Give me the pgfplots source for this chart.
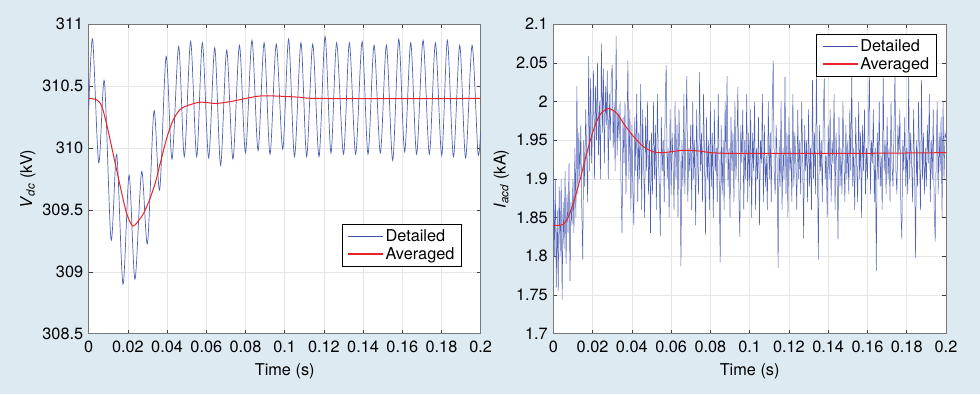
\documentclass[border=0pt]{standalone}
\usepackage{fontspec}
\setmainfont{TeX Gyre Heros}
\usepackage{pgfplots}
\usepackage{pgfplotstable}
\pgfplotsset{compat=1.18}
\definecolor{bg}{RGB}{221,234,241}
\definecolor{det}{RGB}{62,82,170}
\definecolor{detl}{RGB}{80,98,182}
\definecolor{avg}{RGB}{232,36,40}
\definecolor{axc}{RGB}{120,120,120}
\definecolor{gridc}{RGB}{230,230,230}
\newcommand{\ff}{\fontsize{16.3}{19}\selectfont}
\pgfplotstableread[header=false]{
1.91
1.80
1.90
1.76
1.86
1.755
1.89
1.80
1.90
1.744
1.87
1.81
1.91
1.79
1.88
1.83
1.92
1.768
1.87
1.84
1.90
1.83
1.94
1.85
2.02
1.88
1.96
1.90
1.97
1.86
1.796
1.95
1.89
1.99
1.93
1.87
2.059
1.91
2.03
1.92
1.97
2.04
1.90
2.02
1.95
2.05
1.93
2.00
1.90
2.075
1.96
2.043
1.92
2.02
1.97
2.04
1.90
2.01
1.95
2.03
2.047
1.94
2.00
1.91
2.085
1.93
1.99
1.95
2.00
1.89
1.83
1.98
1.92
2.00
1.88
1.96
2.053
1.90
1.99
1.86
1.97
1.89
1.84
1.98
1.91
2.01
1.87
1.96
1.90
2.023
1.86
1.99
1.92
1.85
1.98
1.91
2.00
1.88
1.95
1.83
1.96
1.88
2.00
1.90
1.97
1.86
2.01
1.93
1.89
1.826
1.98
1.91
1.95
1.87
2.00
2.047
1.90
1.94
1.85
1.99
1.88
1.96
1.92
1.86
2.00
1.90
1.97
1.85
1.99
1.93
1.787
1.95
1.89
2.01
1.88
1.96
2.033
1.87
1.94
1.91
1.97
1.86
2.00
1.90
1.95
1.84
1.99
1.92
1.88
2.038
1.91
1.96
1.87
2.01
1.93
1.828
1.98
1.90
1.95
1.86
2.00
1.89
1.96
1.85
1.99
1.91
1.94
1.87
2.01
1.90
1.792
1.97
1.88
1.95
1.86
2.00
1.92
2.033
1.89
1.94
1.85
1.98
1.91
1.96
1.87
2.00
1.90
1.94
2.019
1.88
1.825
1.97
1.92
1.99
1.86
1.95
1.90
2.01
1.87
1.96
1.89
1.99
1.85
1.96
1.91
2.00
1.86
1.94
1.90
1.98
1.84
1.95
1.92
2.01
1.87
1.97
1.89
1.93
1.86
2.00
1.90
1.96
1.87
1.99
2.053
1.91
1.88
1.97
1.92
1.785
1.95
1.89
2.00
1.86
1.94
1.90
2.032
1.88
1.96
1.85
1.98
1.91
1.94
1.87
2.01
1.89
1.96
1.92
1.86
1.99
1.90
1.95
1.88
2.00
1.93
1.823
1.97
1.91
1.95
1.87
1.99
1.89
1.94
1.86
2.028
1.90
1.96
1.88
2.039
1.92
1.796
1.97
1.91
1.95
1.87
1.98
2.03
1.90
1.93
1.85
1.97
1.90
1.99
1.87
1.95
1.92
2.01
1.86
1.96
1.91
1.822
1.98
1.89
1.94
1.88
2.00
1.93
1.87
1.97
1.90
1.95
1.88
1.99
1.91
2.039
1.89
1.94
1.86
1.98
1.92
1.87
2.00
1.90
1.96
1.85
1.97
1.91
1.99
1.88
1.94
1.90
1.97
2.039
1.88
1.95
1.92
1.99
1.87
1.94
1.781
1.96
1.90
2.00
1.89
1.93
1.86
2.039
1.91
1.95
1.88
1.98
1.90
1.94
1.87
2.00
1.92
1.89
1.96
2.039
1.91
1.88
1.97
1.93
1.99
1.86
1.822
1.95
1.91
1.98
1.89
1.94
1.88
2.035
1.90
1.96
1.92
1.87
1.99
1.91
1.798
1.95
1.89
2.00
1.93
1.86
2.028
1.90
1.96
1.88
1.94
1.89
1.97
1.92
2.01
1.87
1.95
1.90
1.99
1.86
1.819
1.93
2.00
1.88
1.96
1.91
1.98
1.85
2.00
1.90
1.96
1.953
}\iacd
\begin{document}
\begin{tikzpicture}
\fill[bg] (0pt,0pt) rectangle (980pt,394pt);
\pgfplotsset{
 every axis/.append style={
  scale only axis, height=309.5pt,
  axis background/.style={fill=white},
  xmin=0, xmax=0.2,
  xtick={0,0.02,0.04,0.06,0.08,0.1,0.12,0.14,0.16,0.18,0.2},
  tick align=inside, tick pos=both,
  major tick length=4pt,
  grid=major, major grid style={gridc, line width=0.6pt},
  axis line style={axc, line width=0.6pt},
  tick style={black!75, line width=0.6pt},
  font=\ff,
  tick label style={font=\ff},
  /pgf/number format/assume math mode=true,
  scaled ticks=false,
  xticklabel style={/pgf/number format/fixed, /pgf/number format/precision=2, yshift=-4pt},
  yticklabel style={xshift=-2pt},
  xlabel={Time (s)},
  xlabel style={yshift=-4pt},
  legend cell align=left,
  legend style={draw=black, line width=0.9pt, fill=white, font=\ff, inner xsep=5pt, inner ysep=3.5pt, row sep=0pt},
 },
 detleg/.style={legend image code/.code={\draw[color=det, draw=det, line width=1.4pt] (0pt,0pt) -- (35pt,0pt);}},
 avgleg/.style={legend image code/.code={\draw[color=avg, draw=avg, line width=1.4pt] (0pt,0pt) -- (35pt,0pt);}},
}
\begin{axis}[at={(88.7pt,60.3pt)}, anchor=south west, width=392pt,
  ymin=308.5, ymax=311, ytick={308.5,309,309.5,310,310.5,311},
  ylabel={\textit{V}\textsubscript{\textit{dc}} (kV)},
  legend style={at={(rel axis cs:0.952,0.217)}, anchor=south east}]
\addplot[color=detl, line width=0.7pt, smooth, detleg] coordinates {
(0,310.30) (0.002,310.88) (0.0051,309.88) (0.008,310.54) (0.0114,309.26) (0.0143,309.95)
(0.0175,308.90) (0.0206,309.78) (0.0236,308.94) (0.027,309.81) (0.030,309.23) (0.0333,310.30)
(0.0362,309.66) (0.0395,310.74) (0.0425,309.91) (0.0459,310.82) (0.0488,309.93) (0.052,310.86)
(0.0551,309.93) (0.058,310.85) (0.0612,309.92) (0.0643,310.81) (0.0673,309.86) (0.0704,310.79)
(0.0736,309.91) (0.0769,310.83) (0.080,309.96) (0.0833,310.87) (0.0864,309.98) (0.0895,310.85)
(0.0925,309.95) (0.0957,310.84) (0.099,309.99) (0.102,310.88) (0.105,309.93) (0.1083,310.85)
(0.1112,309.93) (0.1143,310.84) (0.1175,309.93) (0.1206,310.90) (0.1236,309.96) (0.1265,310.85)
(0.130,309.95) (0.133,310.85) (0.1362,309.95) (0.1395,310.86) (0.1425,309.95) (0.1456,310.83)
(0.1488,309.96) (0.1519,310.83) (0.1551,309.90) (0.1582,310.88) (0.1612,309.97) (0.1643,310.85)
(0.1673,309.95) (0.1706,310.87) (0.1738,309.95) (0.1769,310.85) (0.1801,309.94) (0.183,310.87)
(0.1861,309.93) (0.1893,310.83) (0.1923,309.92) (0.1956,310.83) (0.1986,309.96) (0.2,310.15)
};
\addplot[color=avg, line width=1pt, smooth, avgleg] coordinates {
(0,310.40) (0.004,310.39) (0.0066,310.34) (0.0092,310.19) (0.0117,310.01) (0.0143,309.82)
(0.0168,309.64) (0.0194,309.47) (0.0224,309.37) (0.0253,309.41) (0.0279,309.47) (0.031,309.58)
(0.034,309.72) (0.0364,309.87) (0.04,310.09) (0.0432,310.23) (0.0466,310.31) (0.05,310.34)
(0.057,310.37) (0.0653,310.36) (0.074,310.38) (0.08,310.40) (0.0874,310.42) (0.095,310.42)
(0.108,310.41) (0.12,310.40) (0.2,310.40)
};
\legend{Detailed,Averaged}
\end{axis}
\begin{axis}[at={(553.3pt,60.3pt)}, anchor=south west, width=392.7pt,
  ymin=1.7, ymax=2.1, ytick={1.7,1.75,1.8,1.85,1.9,1.95,2,2.05,2.1},
  ylabel={\textit{I}\textsubscript{\textit{acd}} (kA)},
  legend style={at={(rel axis cs:0.976,0.969)}, anchor=north east}]
\addplot[color=detl, line width=0.5pt, detleg] table[x expr=\coordindex*0.0005, y index=0] {\iacd};
\addplot[color=avg, line width=1pt, smooth, avgleg] coordinates {
(0,1.840) (0.0048,1.841) (0.0075,1.850) (0.0102,1.869) (0.0136,1.899) (0.017,1.933)
(0.0204,1.963) (0.0238,1.983) (0.028,1.991) (0.0323,1.985) (0.0357,1.972) (0.0408,1.955)
(0.0458,1.942) (0.051,1.935) (0.056,1.934) (0.0662,1.937) (0.0747,1.936) (0.08,1.934)
(0.09,1.933) (0.1036,1.933) (0.15,1.933) (0.2,1.934)
};
\legend{Detailed,Averaged}
\end{axis}
\end{tikzpicture}
\end{document}
